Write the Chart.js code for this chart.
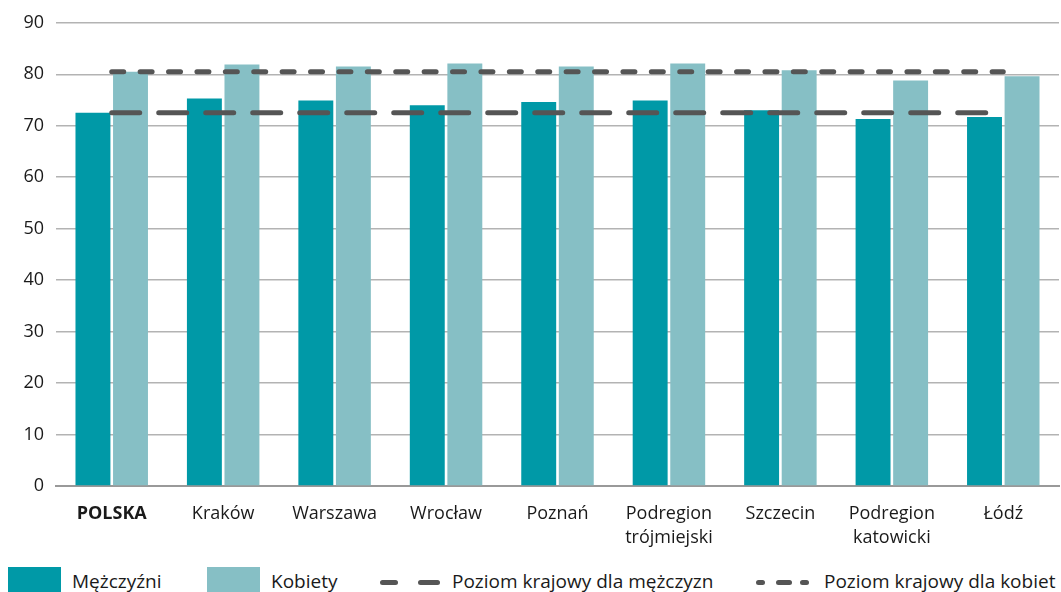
<!DOCTYPE html>
<html lang="pl">
<head>
<meta charset="utf-8">
<script src="https://cdn.jsdelivr.net/npm/chart.js@4"></script>
<style>
  body { margin: 0; background: #fff; font-family: "Open Sans", sans-serif; }
  #wrap { position: absolute; left: 0; top: 0; width: 1061px; height: 555px; }
  .legend { position: absolute; top: 567px; left: 0; width: 1061px; height: 25px; font-size: 19px; color: #1a1a1a; }
  .box { position: absolute; top: 0; width: 53px; height: 32px; }
  .txt { position: absolute; top: 1px; white-space: nowrap; }
  .dash { position: absolute; top: 13px; height: 5px; border-radius: 3px; background: #555; }
</style>
</head>
<body>
<div id="wrap"><canvas id="chart"></canvas></div>

<div class="legend">
  <div class="box" style="left:8px;background:#0099a7"></div>
  <span class="txt" style="left:72px">Mężczyźni</span>
  <div class="box" style="left:207px;background:#86bfc5"></div>
  <span class="txt" style="left:271px">Kobiety</span>

  <span class="dash" style="left:380px;width:18px"></span>
  <span class="dash" style="left:418px;width:22px"></span>
  <span class="txt" style="left:452px">Poziom krajowy dla mężczyzn</span>

  <span class="dash" style="left:756px;width:9px"></span>
  <span class="dash" style="left:776px;width:16px"></span>
  <span class="dash" style="left:800px;width:9px"></span>
  <span class="txt" style="left:824px">Poziom krajowy dla kobiet</span>
</div>

<script>
// Dane
const regions = ['POLSKA', 'Kraków', 'Warszawa', 'Wrocław', 'Poznań', ['Podregion', 'trójmiejski'], 'Szczecin', ['Podregion', 'katowicki'], 'Łódź'];
const men = [72.5, 75.3, 74.9, 74.0, 74.6, 74.9, 73.0, 71.3, 71.7];
const women = [80.5, 81.9, 81.5, 82.1, 81.5, 82.1, 80.8, 78.8, 79.6];
const menNational = [72.5, 72.5, 72.5, 72.5, 72.5, 72.5, 72.5, 72.5, 72.5];
const womenNational = [80.5, 80.5, 80.5, 80.5, 80.5, 80.5, 80.5, 80.5, 80.5];
const yTicks = [0, 10, 20, 30, 40, 50, 60, 70, 80, 90];

const ctx = document.getElementById('chart');

new Chart(ctx, {
    type: 'bar',
    data: {
        labels: regions,
        datasets: [{
            label: 'Mężczyźni',
            data: men,
            backgroundColor: '#0099a7',
            barPercentage: 0.93,
            categoryPercentage: 0.674,
            order: 2
        },
        {
            label: 'Kobiety',
            data: women,
            backgroundColor: '#86bfc5',
            barPercentage: 0.93,
            categoryPercentage: 0.674,
            order: 2
        },
        {
            type: 'line',
            label: 'Poziom krajowy dla mężczyzn',
            data: menNational,
            borderColor: '#555555',
            borderWidth: 5,
            borderDash: [28, 19],
            borderCapStyle: 'round',
            pointRadius: 0,
            order: 0
        },
        {
            type: 'line',
            label: 'Poziom krajowy dla kobiet',
            data: womenNational,
            borderColor: '#555555',
            borderWidth: 5,
            borderDash: [12, 16.4],
            borderCapStyle: 'round',
            pointRadius: 0,
            order: 0
        }]
    },
    options: {
        responsive: true,
        maintainAspectRatio: false,
        animation: false,
        layout: {
            padding: { top: 21, right: 2, left: 0, bottom: 0 }
        },
        plugins: {
            legend: { display: false },
            tooltip: { enabled: false }
        },
        scales: {
            x: {
                grid: { display: false },
                border: { color: '#999999', width: 2 },
                ticks: {
                    color: '#1a1a1a',
                    padding: 8,
                    maxRotation: 0,
                    autoSkip: false,
                    font: function(c) {
                        return {
                            family: 'Open Sans',
                            size: 18,
                            weight: c.index === 0 ? 'bold' : 'normal',
                            lineHeight: 1.33
                        };
                    }
                },
                afterFit: function(scale) { scale.height = 69; }
            },
            y: {
                min: 0,
                max: 90,
                afterBuildTicks: function(scale) {
                    scale.ticks = yTicks.map(v => ({ value: v }));
                },
                grid: { color: '#b3b3b3', lineWidth: 1.5, drawTicks: false },
                border: { display: false },
                ticks: {
                    color: '#1a1a1a',
                    padding: 12,
                    font: { family: 'Open Sans', size: 18 }
                },
                afterFit: function(scale) { scale.width = 56; }
            }
        }
    }
});
</script>
</body>
</html>
